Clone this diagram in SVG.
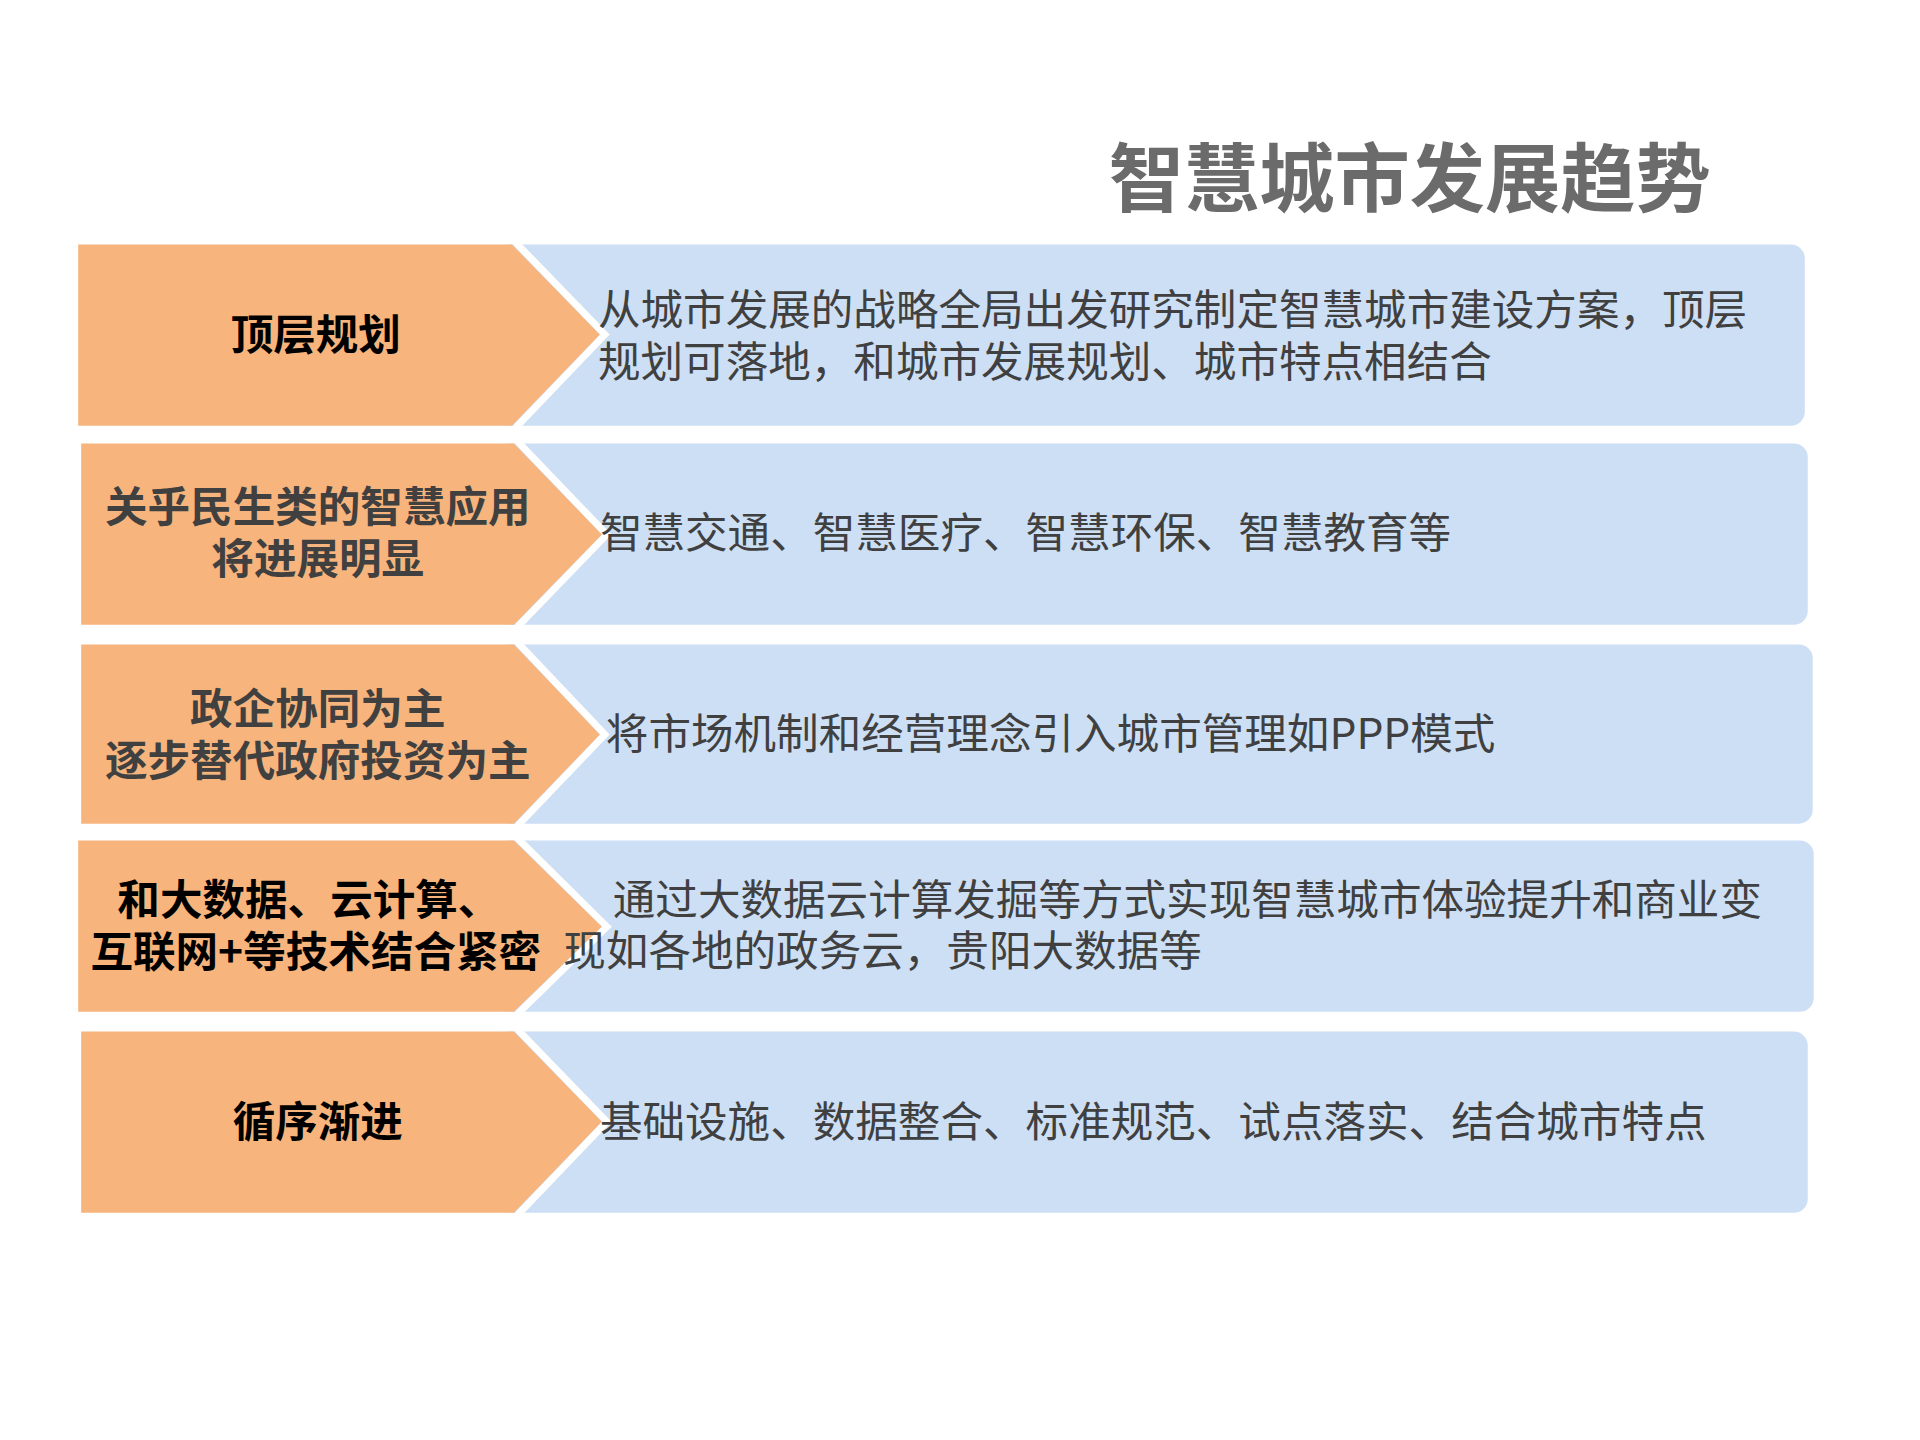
<svg xmlns="http://www.w3.org/2000/svg" width="1920" height="1440" viewBox="0 0 1920 1440">
<style>
.bl{fill:#cddff4}
.or{fill:#f7b47c}
.sep{fill:none;stroke:#fff;stroke-width:7}
.lt{font-family:"Noto Sans CJK SC","Noto Sans",sans-serif;font-weight:700;font-size:43px;text-anchor:middle}
.rt{font-family:"Noto Sans CJK SC","Noto Sans",sans-serif;font-size:43px;fill:#404040}
</style>
<rect width="1920" height="1440" fill="#fff"/>
<g transform="scale(0.99)">
<text x="1424" y="208" font-family="Noto Sans CJK SC,sans-serif" font-weight="700" font-size="76" fill="#6b6b6b" text-anchor="middle">智慧城市发展趋势</text>
<g id="row1">
<rect class="bl" x="500" y="247" width="1323" height="183" rx="14"/>
<polygon class="or" points="79,247 517,247 606,338 517,430 79,430"/>
<polyline class="sep" points="521,245 611,338 521,432"/>
<text class="lt" x="319" y="354" fill="#000">顶层规划</text>
<text class="rt" x="604" y="328">从城市发展的战略全局出发研究制定智慧城市建设方案，顶层</text>
<text class="rt" x="604" y="381">规划可落地，和城市发展规划、城市特点相结合</text>
</g>
<g id="row2">
<rect class="bl" x="500" y="448" width="1326" height="183" rx="14"/>
<polygon class="or" points="82,448 519,448 608,540 519,631 82,631"/>
<polyline class="sep" points="523,446 613,540 523,633"/>
<text class="lt" x="321" y="527" fill="#404040">关乎民生类的智慧应用</text>
<text class="lt" x="321" y="580" fill="#404040">将进展明显</text>
<text class="rt" x="606" y="554">智慧交通、智慧医疗、智慧环保、智慧教育等</text>
</g>
<g id="row3">
<rect class="bl" x="500" y="651" width="1331" height="181" rx="14"/>
<polygon class="or" points="82,651 519,651 606,742 519,832 82,832"/>
<polyline class="sep" points="523,649 611,742 523,834"/>
<text class="lt" x="321" y="731" fill="#404040">政企协同为主</text>
<text class="lt" x="321" y="784" fill="#404040">逐步替代政府投资为主</text>
<text class="rt" x="612" y="757">将市场机制和经营理念引入城市管理如PPP模式</text>
</g>
<g id="row4">
<rect class="bl" x="500" y="849" width="1332" height="173" rx="14"/>
<polygon class="or" points="79,849 519,849 608,936 519,1022 79,1022"/>
<polyline class="sep" points="523,847 613,936 523,1024"/>
<text class="lt" x="312" y="924" fill="#000">和大数据、云计算、</text>
<text class="lt" x="319" y="977" fill="#000">互联网+等技术结合紧密</text>
<text class="rt" x="619" y="924">通过大数据云计算发掘等方式实现智慧城市体验提升和商业变</text>
<text class="rt" x="569" y="976">现如各地的政务云，贵阳大数据等</text>
</g>
<g id="row5">
<rect class="bl" x="500" y="1042" width="1326" height="183" rx="14"/>
<polygon class="or" points="82,1042 519,1042 608,1133 519,1225 82,1225"/>
<polyline class="sep" points="523,1040 613,1133 523,1227"/>
<text class="lt" x="321" y="1148" fill="#000">循序渐进</text>
<text class="rt" x="606" y="1148">基础设施、数据整合、标准规范、试点落实、结合城市特点</text>
</g>
</g>
</svg>
